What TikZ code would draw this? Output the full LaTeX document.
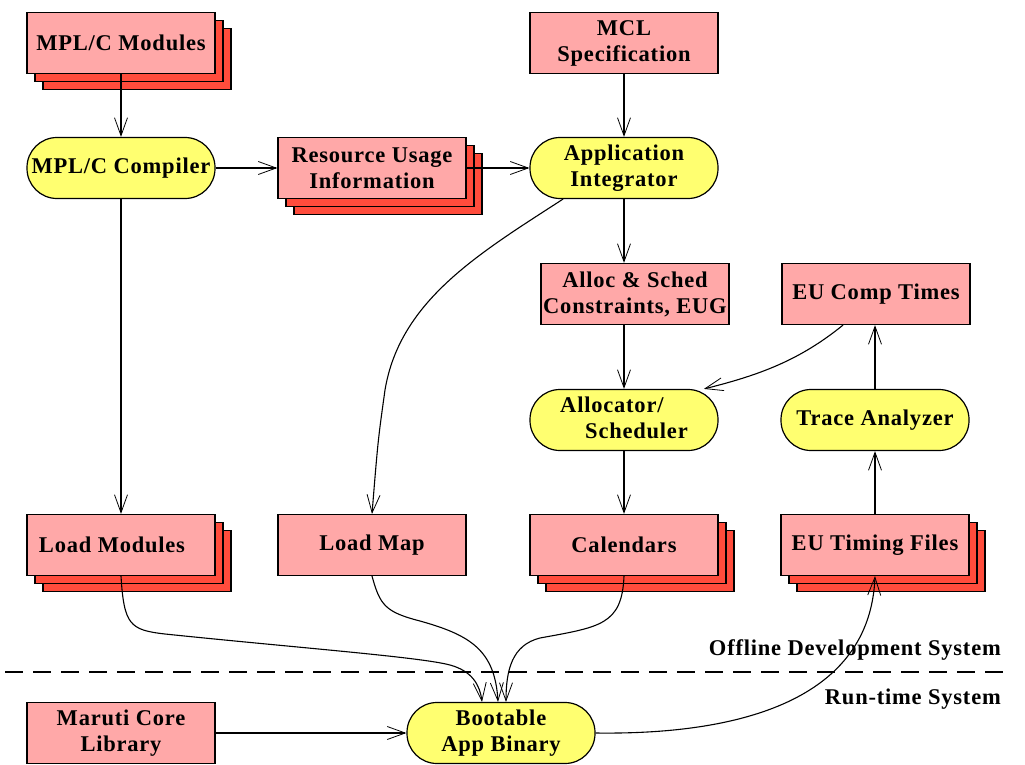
\documentclass[tikz,border=0pt]{standalone}
\usepackage{fontspec}
\setmainfont[LetterSpace=3.5]{Liberation Serif}
\usetikzlibrary{arrows.meta,shadows}
\definecolor{pinkfill}{RGB}{255,168,168}
\definecolor{stackred}{RGB}{255,76,60}
\definecolor{procyellow}{RGB}{255,255,112}
\begin{document}
\begin{tikzpicture}[x=1pt,y=-1pt,
  base/.style={draw=black, line width=1.2pt, minimum width=188pt, minimum height=61pt,
    inner sep=0pt, align=center, font=\bfseries\fontsize{22.5}{26}\selectfont},
  databox/.style={base, fill=pinkfill},
  stackbox/.style={databox, double copy shadow={shadow xshift=8pt, shadow yshift=-8pt,
    fill=stackred, draw=black, line width=1.2pt, opacity=1}},
  procbox/.style={base, fill=procyellow, rounded corners=30pt},
  label/.style={font=\bfseries\fontsize{22.5}{26}\selectfont, inner sep=0pt},
  arr/.style={line width=1.1pt, -{Straight Barb[length=18pt,width=13pt,line width=0.8pt]}}]
\useasboundingbox (0,0) rectangle (1025,765);

% data (pink) and process (yellow) nodes
\node[stackbox] (mods) at (121,43) {MPL/C Modules};
\node[databox] (mcl) at (624,43) {MCL\\Specification};
\node[procbox] (comp) at (121,168) {MPL/C Compiler};
\node[stackbox] (res) at (372,168) {Resource Usage\\Information};
\node[procbox] (intg) at (624,168) {Application\\Integrator};
\node[databox] (cons) at (635,294) {Alloc \& Sched\\Constraints, EUG};
\node[databox] (ctimes) at (876,294) {EU Comp Times};
\node[procbox] (alloc) at (624,420) {\begin{tabular}{@{}l@{}}Allocator/\\\hspace*{25pt}Scheduler\end{tabular}};
\node[procbox] (trace) at (875,420) {Trace Analyzer};
\node[stackbox] (lmods) at (121,545) {Load Modules\hspace*{18pt}};
\node[databox] (lmap) at (372,545) {Load Map};
\node[stackbox] (cal) at (624,545) {Calendars};
\node[stackbox] (euf) at (875,545) {EU Timing Files};
\node[databox] (maruti) at (121,733) {Maruti Core\\Library};
\node[procbox] (boot) at (501,733) {Bootable\\App Binary};

% offline / run-time boundary
\coordinate (sepL) at (5,672);
\coordinate (sepR) at (1003,672);
\draw[line width=1.1pt, dash pattern=on 18pt off 10pt] (sepL) -- (sepR);
\node[label, anchor=east] (offl) at (1001,650) {Offline Development System};
\node[label, anchor=east] (rtime) at (1001,699) {Run-time System};

% straight connectors
\draw[arr] (mods.south) -- (comp.north);
\draw[arr] (comp.east) -- (res.west);
\draw[arr] (res.east) -- (intg.west);
\draw[arr] (mcl.south) -- (intg.north);
\draw[arr] (intg.south) -- (intg.south |- cons.north);
\draw[arr] (alloc.north |- cons.south) -- (alloc.north);
\draw[arr] (trace.north) -- (trace.north |- ctimes.south);
\draw[arr] (euf.north) -- (trace.south);
\draw[arr] (alloc.south) -- (cal.north);
\draw[arr] (comp.south) -- (lmods.north);
\draw[arr] (maruti.east) -- (boot.west);

% curved connectors
\draw[arr] ([xshift=-61pt]intg.south) .. controls (480,253) and (400,300) .. (385,390)
  .. controls (378,440) .. (lmap.north);
\draw[arr] ([xshift=-33pt]ctimes.south) .. controls (800,360) and (760,375) .. ([xshift=80pt]alloc.north);
\draw[arr] (lmods.south) .. controls (124,625) and (130,630) .. (165,634)
  .. controls (300,648) and (420,657) .. (450,665)
  .. controls (472,671) and (480,685) .. ([xshift=-19pt]boot.north);
\draw[arr] (lmap.south) .. controls (380,605) and (385,612) .. (420,621)
  .. controls (470,635) and (495,650) .. ([xshift=-3pt]boot.north);
\draw[arr] (cal.south) .. controls (622,625) and (600,627) .. (540,638)
  .. controls (512,645) and (506,670) .. ([xshift=5pt]boot.north);
\draw[arr] (boot.east) .. controls (740,735) and (870,700) .. (euf.south);
\end{tikzpicture}
\end{document}
